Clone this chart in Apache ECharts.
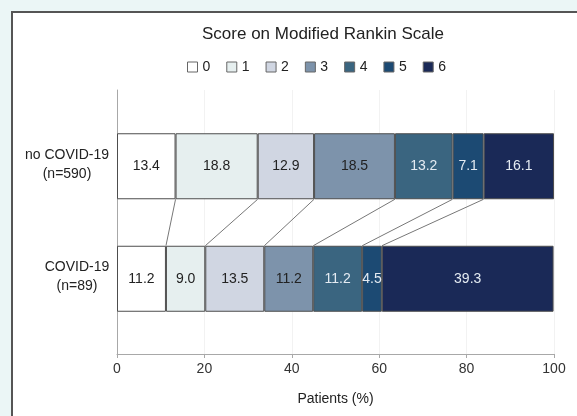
<!DOCTYPE html>
<html>
<head>
<meta charset="utf-8">
<script src="https://cdn.jsdelivr.net/npm/echarts@6/dist/echarts.min.js"></script>
<style>
  html, body { margin: 0; padding: 0; width: 577px; height: 416px; overflow: hidden; background: #ebf6f6; }
  #panel { position: absolute; left: 11px; top: 11px; width: 600px; height: 500px; background: #ffffff; border: 2px solid #555555; }
  #chart { position: absolute; left: 0; top: 0; width: 577px; height: 416px; }
</style>
</head>
<body>
<div id="panel"></div>
<div id="chart"></div>
<script>
// ---- data ----
const groups = ['no COVID-19', 'COVID-19'];
const groupN = ['(n=590)', '(n=89)'];
const scores = ['0', '1', '2', '3', '4', '5', '6'];
const noCovid = [13.4, 18.8, 12.9, 18.5, 13.2, 7.1, 16.1];
const covid = [11.2, 9.0, 13.5, 11.2, 11.2, 4.5, 39.3];
const xTicks = [0, 20, 40, 60, 80, 100];

const colors = ['#ffffff', '#e6efef', '#d0d6e2', '#7d93ab', '#3a6580', '#1c4a73', '#1a2957'];
const labelColors = ['#222222', '#222222', '#222222', '#222222', '#e4ebf2', '#e4ebf2', '#e4ebf2'];
const FONT = 'Liberation Sans, Arial, sans-serif';

// cumulative boundaries for connector lines
function cum(arr) { let s = 0; return arr.map(v => (s += v)); }
const cumTop = cum(noCovid);
const cumBot = cum(covid);
const connectors = [];
for (let i = 0; i < scores.length - 1; i++) connectors.push([cumTop[i], cumBot[i]]);

const BAR_H = 66;

const series = scores.map((s, i) => ({
  name: s,
  type: 'bar',
  stack: 'mrs',
  xAxisIndex: 0,
  yAxisIndex: 0,
  barWidth: BAR_H,
  data: [noCovid[i], covid[i]],
  itemStyle: { color: colors[i], borderColor: '#4d4d4d', borderWidth: 1 },
  label: {
    show: true,
    position: 'inside',
    fontFamily: FONT,
    fontSize: 14,
    color: labelColors[i],
    formatter: p => p.value.toFixed(1)
  },
  emphasis: { disabled: true },
  z: 3
}));

series.push({
  type: 'custom',
  xAxisIndex: 0,
  yAxisIndex: 0,
  data: connectors,
  silent: true,
  z: 2,
  renderItem: function (params, api) {
    const p1 = api.coord([api.value(0), 0]);
    const p2 = api.coord([api.value(1), 1]);
    return {
      type: 'line',
      shape: { x1: p1[0], y1: p1[1] + BAR_H / 2, x2: p2[0], y2: p2[1] - BAR_H / 2 },
      style: { stroke: '#777777', lineWidth: 1 }
    };
  }
});

const chart = echarts.init(document.getElementById('chart'), null, { renderer: 'canvas' });
chart.setOption({
  backgroundColor: 'transparent',
  animation: false,
  color: colors,
  title: {
    text: 'Score on Modified Rankin Scale',
    left: 197,
    top: 21,
    textStyle: { fontFamily: FONT, fontSize: 17, fontWeight: 'normal', color: '#222222' }
  },
  legend: {
    data: scores,
    left: 182,
    top: 55,
    icon: 'rect',
    itemWidth: 10,
    itemHeight: 10,
    itemGap: 16,
    selectedMode: false,
    itemStyle: { borderColor: '#666666', borderWidth: 1 },
    textStyle: { fontFamily: FONT, fontSize: 14, color: '#222222', padding: [0, 0, 0, 0] }
  },
  grid: [
    { left: 117, right: 23, top: 110, height: 225 },
    { left: 117, right: 23, top: 90, bottom: 62 }
  ],
  xAxis: [
    { gridIndex: 0, type: 'value', min: 0, max: 100, show: false },
    {
      gridIndex: 1, type: 'value', min: xTicks[0], max: xTicks[xTicks.length - 1], interval: 20,
      name: 'Patients (%)', nameLocation: 'middle', nameGap: 38,
      nameTextStyle: { fontFamily: FONT, fontSize: 14, color: '#222222' },
      axisLine: { show: true, lineStyle: { color: '#a8a8a8', width: 1 } },
      axisTick: { show: true, length: 4, lineStyle: { color: '#a8a8a8' } },
      axisLabel: { fontFamily: FONT, fontSize: 14, color: '#333333', margin: 8 },
      splitLine: { show: true, lineStyle: { color: '#f2f2f2', width: 1 } }
    }
  ],
  yAxis: [
    {
      gridIndex: 0, type: 'category', inverse: true,
      data: groups,
      axisLine: { show: false },
      axisTick: { show: false },
      axisLabel: {
        margin: 7,
        formatter: function (v, idx) {
          const st = idx === 0 ? 'a' : 'b';
          return '{' + st + '|' + v + '}\n{' + st + '|' + groupN[idx] + '}';
        },
        rich: {
          a: { width: 86, align: 'center', fontFamily: FONT, fontSize: 14, color: '#222222', lineHeight: 19, padding: [0, 0, 4, 0] },
          b: { width: 66, align: 'center', fontFamily: FONT, fontSize: 14, color: '#222222', lineHeight: 19, padding: [0, 0, 4, 0] }
        }
      }
    },
    {
      gridIndex: 1, type: 'value', min: 0, max: 1,
      axisLine: { show: true, lineStyle: { color: '#a8a8a8', width: 1 } },
      axisTick: { show: false },
      axisLabel: { show: false },
      splitLine: { show: false }
    }
  ],
  series: series
});
</script>
</body>
</html>
